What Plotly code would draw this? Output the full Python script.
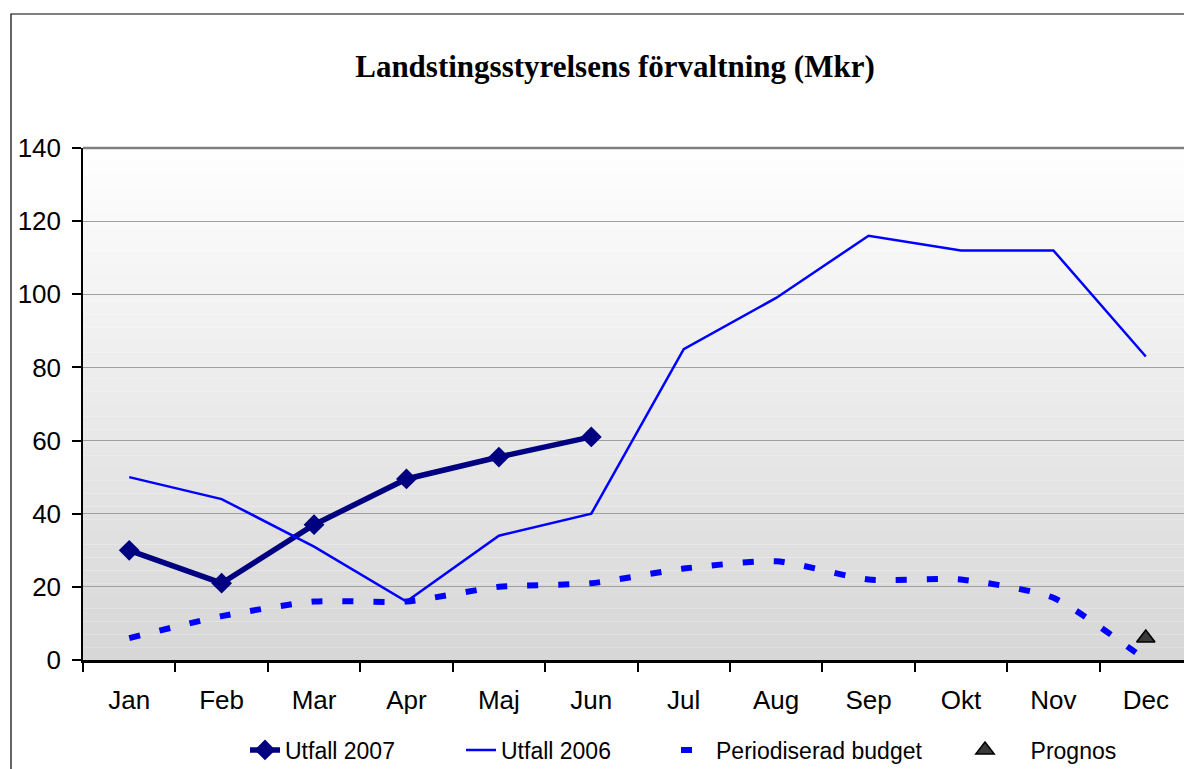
import plotly.graph_objects as go

months = ["Jan", "Feb", "Mar", "Apr", "Maj", "Jun", "Jul", "Aug", "Sep", "Okt", "Nov", "Dec"]
utfall_2007 = [30, 21, 37, 49.5, 55.5, 61]
utfall_2006 = [50, 44, 31, 16, 34, 40, 85, 99, 116, 112, 112, 83]
budget = [6, 12, 16, 16, 20, 21, 25, 27, 22, 22, 17, 0]
prognos_month = ["Dec"]
prognos = [6]

title_text = "Landstingsstyrelsens förvaltning (Mkr)"
y_ticks = [0, 20, 40, 60, 80, 100, 120, 140]

# page body has an 8px margin, so the figure is sized/positioned to fit inside it
OFF = 8
W, H = 1192 - OFF, 769 - OFF
ML, MR, MT, MB = 83 - OFF, 0, 148 - OFF, 109
PW = W - ML - MR
PH = H - MT - MB

FONT = "Liberation Sans, Arial, sans-serif"

fig = go.Figure()

fig.add_trace(go.Scatter(
    x=months[:len(utfall_2007)], y=utfall_2007, name="Utfall 2007",
    mode="lines+markers",
    line=dict(color="#000080", width=5.5),
    marker=dict(symbol="diamond", size=16, color="#000080"),
    legend="legend",
))
fig.add_trace(go.Scatter(
    x=months, y=utfall_2006, name="Utfall 2006",
    mode="lines",
    line=dict(color="#0000FF", width=2.5),
    legend="legend2",
))
fig.add_trace(go.Scatter(
    x=months, y=budget, name="Periodiserad budget",
    mode="lines",
    line=dict(color="#0000FF", width=6, dash="11px,20px", shape="spline", smoothing=0.6),
    legend="legend3",
))
fig.add_trace(go.Scatter(
    x=prognos_month, y=prognos, name="\u00a0\u00a0\u00a0\u00a0Prognos",
    mode="markers",
    marker=dict(symbol="triangle-up", size=16, color="#3a3a3a",
                line=dict(color="#000000", width=1.5)),
    legend="legend4",
))

# plot-area vertical gradient (white at top to light grey at bottom)
shapes = []
nb = 40
top_c, bot_c = 255, 214
for i in range(nb):
    f0 = i / nb
    f1 = (i + 1) / nb
    t = (i + 0.5) / nb
    c = round(bot_c + (top_c - bot_c) * t)
    shapes.append(dict(type="rect", xref="x domain", yref="y domain",
                       x0=0, x1=1, y0=f0, y1=f1,
                       fillcolor=f"rgb({c},{c},{c})", line=dict(width=0),
                       layer="below"))
# top border of plot area
shapes.append(dict(type="line", xref="x domain", yref="y domain",
                   x0=0, x1=1, y0=1, y1=1, line=dict(color="#808080", width=2.5),
                   layer="above"))
# chart outer border
shapes.append(dict(type="rect", xref="paper", yref="paper",
                   x0=(11 - OFF - ML) / PW, x1=1.05,
                   y0=-0.3, y1=(H - MB - (14 - OFF)) / PH,
                   line=dict(color="#000000", width=1.2), fillcolor="rgba(0,0,0,0)",
                   layer="below"))


def leg(text_x):
    return dict(orientation="h", xref="container", yref="container",
                x=(text_x - OFF - 41) / W, xanchor="left",
                y=1 - (750 - OFF) / H, yanchor="middle",
                font=dict(size=23, family=FONT, color="black"),
                bgcolor="rgba(0,0,0,0)", borderwidth=0)


fig.update_layout(
    width=W, height=H,
    margin=dict(l=ML, r=MR, t=MT, b=MB),
    paper_bgcolor="white",
    plot_bgcolor="rgba(0,0,0,0)",
    title=dict(text=f"<b>{title_text}</b>", x=(615 - OFF) / W, xanchor="center",
               y=1 - (66 - OFF) / H, yanchor="middle", yref="container",
               font=dict(family="Liberation Serif, Times New Roman, serif", size=31, color="black")),
    font=dict(family=FONT, color="black"),
    shapes=shapes,
    showlegend=True,
    legend=leg(286),
    legend2=leg(502),
    legend3=leg(717),
    legend4=leg(1032 - 26),
)

fig.update_xaxes(
    type="category", categoryorder="array", categoryarray=months,
    range=[-0.5, len(months) - 0.5], automargin=False,
    showline=True, linecolor="black", linewidth=2.5,
    ticks="outside", tickson="boundaries", ticklen=9, tickwidth=2, tickcolor="black",
    tickfont=dict(size=26, family=FONT, color="black"),
    ticklabelstandoff=15,
    showgrid=False, zeroline=False,
)
fig.update_yaxes(
    range=[0, 140], tickvals=y_ticks, automargin=False,
    showline=True, linecolor="black", linewidth=1.5,
    ticks="outside", ticklen=9, tickwidth=1.5, tickcolor="black",
    tickfont=dict(size=26, family=FONT, color="black"),
    ticklabelstandoff=6,
    showgrid=True, gridcolor="#a0a0a0", gridwidth=1,
    zeroline=False,
)

fig.write_html("out.html")
